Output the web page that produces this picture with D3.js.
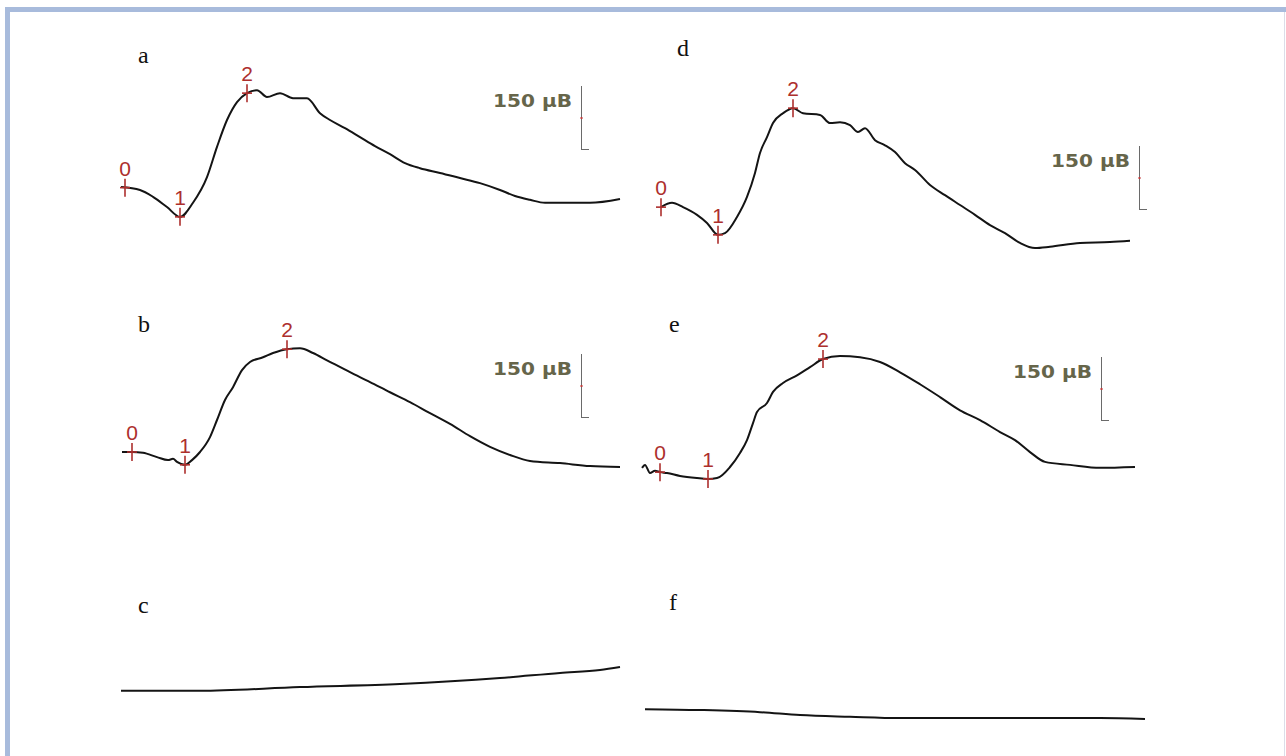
<!DOCTYPE html>
<html>
<head>
<meta charset="utf-8">
<script src="https://cdn.jsdelivr.net/npm/d3@7"></script>
<style>
   html, body { margin: 0; padding: 0; background: #fff; }
   svg { display: block; }
</style>
</head>
<body>
<div id="chart"></div>
<script>
// Evoked potential traces, [time (ms), amplitude (µV)]
const traceA = [[0,0],[19,-7],[32,-23],[46,-47],[59,-70],[72,-37],[86,23],[96,94],[106,157],[116,199],[126,220],[136,227],[146,211],[159,220],[172,208],[186,208],[199,173],[209,157],[224,138],[239,117],[254,96],[269,77],[284,56],[299,44],[319,33],[339,21],[359,9],[379,-7],[394,-21],[409,-30],[424,-37],[439,-37],[469,-37],[499,-28]]
const traceB = [[1,0],[11,0],[22,-2],[36,-12],[47,-19],[52,-16],[56,-23],[64,-30],[71,-19],[79,0],[89,35],[96,75],[104,122],[112,152],[121,192],[129,211],[142,222],[152,232],[166,241],[179,243],[192,232],[206,215],[229,187],[249,164],[269,140],[289,117],[309,91],[329,66],[349,37],[369,12],[389,-7],[409,-21],[439,-26],[469,-33],[499,-35]]
const traceC = [[0,-2],[79,-2],[179,7],[279,14],[379,28],[439,40],[479,47],[499,54]]
const traceD = [[3,-5],[14,5],[25,-5],[39,-23],[49,-42],[60,-70],[67,-66],[79,-28],[89,19],[97,75],[102,122],[109,159],[115,192],[125,215],[135,227],[145,215],[162,211],[172,192],[182,194],[192,187],[200,171],[207,180],[217,152],[227,140],[237,124],[247,98],[257,82],[272,47],[287,23],[302,0],[317,-23],[332,-47],[347,-66],[362,-89],[377,-101],[392,-98],[422,-89],[452,-87],[472,-84]]
const traceE = [[2,5],[5,12],[10,-7],[15,-2],[20,-5],[27,-7],[40,-14],[57,-19],[68,-21],[77,-19],[90,7],[100,40],[107,70],[113,110],[117,136],[127,157],[133,183],[143,204],[157,222],[170,241],[183,260],[200,267],[220,264],[240,253],[260,229],[280,201],[300,171],[320,140],[340,117],[360,89],[375,70],[390,42],[405,19],[430,12],[460,5],[495,7]]
const traceF = [[5,2],[60,0],[120,-5],[160,-12],[210,-16],[260,-19],[360,-19],[460,-19],[505,-21]]

// Marker times (ms) for peaks 0, 1, 2
const markerLabels = ["0", "1", "2"]
const markersA = [4, 59, 126]
const markersB = [11, 64, 166]
const markersD = [3, 60, 135]
const markersE = [20, 68, 183]

const panelLetters = ["a", "b", "c", "d", "e", "f"]
const scaleValue = 150
const scaleLabel = "150 µВ"

// Layout of each panel on the page
const panels = [
   { letter: panelLetters[0], trace: traceA, markers: markersA, x0: 121, base: 187, bar: { x: 581, top: 86 },  lx: 138, ly: 63 },
   { letter: panelLetters[1], trace: traceB, markers: markersB, x0: 121, base: 452, bar: { x: 581, top: 354 }, lx: 138, ly: 332 },
   { letter: panelLetters[2], trace: traceC, markers: [],       x0: 121, base: 690, bar: null,                  lx: 138, ly: 613 },
   { letter: panelLetters[3], trace: traceD, markers: markersD, x0: 658, base: 205, bar: { x: 1139, top: 146 }, lx: 677, ly: 56 },
   { letter: panelLetters[4], trace: traceE, markers: markersE, x0: 640, base: 470, bar: { x: 1101, top: 357 }, lx: 669, ly: 332 },
   { letter: panelLetters[5], trace: traceF, markers: [],       x0: 640, base: 710, bar: null,                  lx: 669, ly: 610 }
]

const width = 1286, height = 756
const pxPerScale = 64 // pixels for 150 µV
const red = "#ad2f2d"

const svg = d3.select("#chart").append("svg")
   .attr("width", width)
   .attr("height", height)

// Frame
svg.append("rect").attr("x", 5).attr("y", 7).attr("width", width - 5).attr("height", 5).attr("fill", "#a8bbdc")
svg.append("rect").attr("x", 5).attr("y", 7).attr("width", 5).attr("height", height - 7).attr("fill", "#a8bbdc")
svg.append("line").attr("x1", 1284.5).attr("x2", 1284.5).attr("y1", 12).attr("y2", height)
   .attr("stroke", "#dcdde8").attr("stroke-width", 1)

// amplitude of a trace at a given time (used to place markers on the curve)
function ampAt(trace, t) {
   let i = d3.bisector(d => d[0]).left(trace, t)
   if(i <= 0) return trace[0][1]
   if(i >= trace.length) return trace[trace.length - 1][1]
   let a = trace[i - 1], b = trace[i]
   return a[1] + (b[1] - a[1]) * (t - a[0]) / (b[0] - a[0])
}

panels.forEach(function(p) {
   let g = svg.append("g").attr("class", "panel panel-" + p.letter)

   let x = d3.scaleLinear().domain([0, 500]).range([p.x0, p.x0 + 500])
   let y = d3.scaleLinear().domain([0, scaleValue]).range([p.base, p.base - pxPerScale])

   // panel letter
   g.append("text")
      .attr("x", p.lx)
      .attr("y", p.ly)
      .attr("font-family", "'Liberation Serif', 'Times New Roman', serif")
      .attr("font-size", 24)
      .attr("fill", "#111")
      .text(p.letter)

   // trace
   let line = d3.line()
      .x(d => x(d[0]))
      .y(d => y(d[1]))
      .curve(d3.curveMonotoneX)

   g.append("path")
      .datum(p.trace)
      .attr("d", line)
      .attr("fill", "none")
      .attr("stroke", "#141414")
      .attr("stroke-width", 2)
      .attr("stroke-linejoin", "round")

   // peak markers
   let marks = g.selectAll("g.marker")
      .data(p.markers.map((t, i) => ({ t: t, v: ampAt(p.trace, t), label: markerLabels[i] })))
      .enter().append("g")
         .attr("class", "marker")
         .attr("transform", d => "translate(" + x(d.t) + "," + y(d.v) + ")")

   marks.append("line")
      .attr("x1", 0).attr("x2", 0)
      .attr("y1", -9).attr("y2", 9)
      .attr("stroke", red).attr("stroke-width", 1.6)
   marks.append("line")
      .attr("x1", -5).attr("x2", 5)
      .attr("y1", 0).attr("y2", 0)
      .attr("stroke", red).attr("stroke-width", 1.6)
   marks.append("text")
      .attr("x", 0)
      .attr("y", -12)
      .attr("text-anchor", "middle")
      .attr("font-family", "'Liberation Sans', Arial, sans-serif")
      .attr("font-size", 21)
      .attr("fill", red)
      .text(d => d.label)

   // 150 µV scale bar
   if(p.bar) {
      let len = y(0) - y(scaleValue)
      let sb = g.append("g")
         .attr("class", "scalebar")
         .attr("transform", "translate(" + p.bar.x + "," + p.bar.top + ")")

      sb.append("line")
         .attr("x1", 0.5).attr("x2", 0.5)
         .attr("y1", 0).attr("y2", len)
         .attr("stroke", "#6a6a6a").attr("stroke-width", 1)
      sb.append("line")
         .attr("x1", 0.5).attr("x2", 8)
         .attr("y1", len - 0.5).attr("y2", len - 0.5)
         .attr("stroke", "#6a6a6a").attr("stroke-width", 1)
      sb.append("rect")
         .attr("x", -0.5).attr("y", len / 2 - 1)
         .attr("width", 2).attr("height", 2)
         .attr("fill", "#c23a3a")
      sb.append("text")
         .attr("x", -9)
         .attr("y", 21)
         .attr("text-anchor", "end")
         .attr("font-family", "'DejaVu Sans', sans-serif")
         .attr("font-weight", "bold")
         .attr("font-size", 18)
         .attr("textLength", 79)
         .attr("lengthAdjust", "spacingAndGlyphs")
         .attr("fill", "#66654a")
         .text(scaleLabel)
   }
})
</script>
</body>
</html>
